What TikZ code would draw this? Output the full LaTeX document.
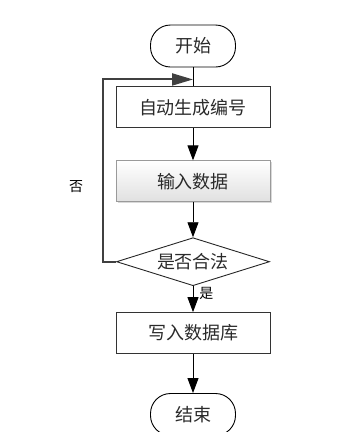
\documentclass[tikz,border=0pt]{standalone}
\usepackage{fontspec}
\setmainfont{Noto Sans CJK SC}
\usepackage{tikz}
\usetikzlibrary{shapes.geometric, arrows.meta, positioning, calc, shadows}
\definecolor{lineGray}{HTML}{404040}
\definecolor{textGray}{HTML}{2A2A2A}
\definecolor{boxEdge}{HTML}{9A9A9A}
\tikzset{
	startstop/.style={rectangle, rounded corners=20pt, minimum width=85pt, minimum height=42pt, align=center, draw=black, line width=0.9pt, text=textGray, font=\fontsize{18}{20}\selectfont},
	process/.style={rectangle, minimum width=154pt, minimum height=41pt, align=center, draw=black!80, line width=0.9pt, text=textGray, font=\fontsize{18}{20}\selectfont},
	inputbox/.style={process, draw=boxEdge, top color=white, bottom color=black!12, drop shadow={shadow xshift=1.5pt, shadow yshift=-1.5pt, fill=black!15, opacity=1}},
	decision/.style={diamond, aspect=3.2, inner sep=0pt, minimum width=153pt, minimum height=48pt, align=center, draw=black!85, line width=0.9pt, text=textGray, font=\fontsize{18}{20}\selectfont},
	arrow/.style={line width=0.9pt, draw=black, -{Triangle[length=15pt, width=11pt]}},
	loopline/.style={line width=2pt, draw=lineGray, -{Triangle[length=21pt, width=12pt]}},
	tag/.style={font=\fontsize{14}{16}\selectfont, text=black, inner sep=1pt}
}

\begin{document}
\begin{tikzpicture}[x=1pt, y=1pt, node distance=19pt]
		\useasboundingbox (0,0) rectangle (361,-432);
		\node (start) [startstop] at (193,-46) {开始};
		\node (gen) [process, below=19pt of start] {自动生成编号};
		\node (input) [inputbox, below=32pt of gen] {输入数据};
		\node (check) [decision, below=35pt of input] {是否合法};
		\node (save) [process, below=26pt of check] {写入数据库};
		\node (stop) [startstop, below=39pt of save] {结束};
		\coordinate (entry) at ([yshift=-12pt]start.south);
		
		% 主流程
		\draw [line width=0.9pt] (start) -- (gen);
		\draw [arrow] (gen) -- (input);
		\draw [arrow] (input) -- (check);
		\draw [arrow] (check) -- node [tag, right=5pt, pos=0.3] {是} (save);
		\draw [arrow] (save) -- (stop);
		
		% 不合法时返回
		\draw [loopline] (check.west) -- ++(-13,0) |- node [tag, left=18pt, pos=0.205] {否} (entry);
	\end{tikzpicture}
\end{document}
